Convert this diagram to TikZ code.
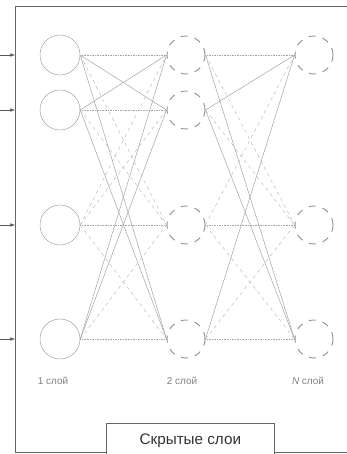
\documentclass[tikz,border=0pt]{standalone}
\usepackage{fontspec}
\setmainfont{Liberation Sans}
\usetikzlibrary{arrows.meta}

\begin{document}
\begin{tikzpicture}[x=0.03cm,y=-0.03cm,
    neuron/.style={circle,draw=gray!75,thin,minimum size=1.2cm,inner sep=0pt},
    hidden/.style={circle,draw=gray!85,thick,dash pattern=on 6pt off 6pt,minimum size=1.14cm,inner sep=0pt},
    link/.style={gray!75,thin},
    weak/.style={gray!55,thin,dashed},
    flat/.style={gray!70,thin,densely dotted},
    layername/.style={gray,font=\fontsize{8.5}{9}\selectfont}]
    \useasboundingbox (0,0) rectangle (347,454);
    % frame
    \draw[gray!80!black,semithick] (360,6) -- (15,6) -- (15,452) -- (360,452);
    \node[draw=gray!80!black,semithick,fill=white,minimum width=5.04cm,anchor=north west,
        inner ysep=8.5pt,text height=9.4pt,text depth=20pt,
        font=\fontsize{13}{14}\selectfont,text=gray!40!black]
        (box) at (106,423) {Скрытые слои};
    % layers
    \foreach \i/\y in {1/55,2/110,3/225,4/339} {
        \node[neuron] (a\i) at (60,\y) {};
        \node[hidden] (b\i) at (186,\y) {};
        \coordinate (in\i) at (0,\y);
        \coordinate (f\i) at (15,\y);
        \draw[-{Latex[length=4pt,width=3pt]},gray!70!black] (in\i) -- (f\i);
    }
    \foreach \j/\y in {1/55,2/225,3/339}
        \node[hidden] (c\j) at (314,\y) {};
    % first to second layer
    \foreach \i in {1,...,4}
        \draw[flat] (a\i.east) -- (b\i.west);
    \foreach \i/\j in {1/2,1/4,2/1,2/4,4/1,4/2}
        \draw[link] (a\i.east) -- (b\j.west);
    \foreach \i/\j in {1/3,2/3,4/3,3/1,3/2,3/4}
        \draw[weak] (a\i.east) -- (b\j.west);
    % second to last layer
    \foreach \i/\j in {1/1,3/2,4/3}
        \draw[flat] (b\i.east) -- (c\j.west);
    \foreach \i/\j in {1/3,2/1,2/3,4/1}
        \draw[link] (b\i.east) -- (c\j.west);
    \foreach \i/\j in {3/1,3/3,1/2,2/2,4/2}
        \draw[weak] (b\i.east) -- (c\j.west);
    % labels
    \node[layername] (n1) at (53,381) {1 слой};
    \node[layername] (n2) at (182,381) {2 слой};
    \node[layername] (n3) at (308,381) {\textit{N} слой};
\end{tikzpicture}
\end{document}
